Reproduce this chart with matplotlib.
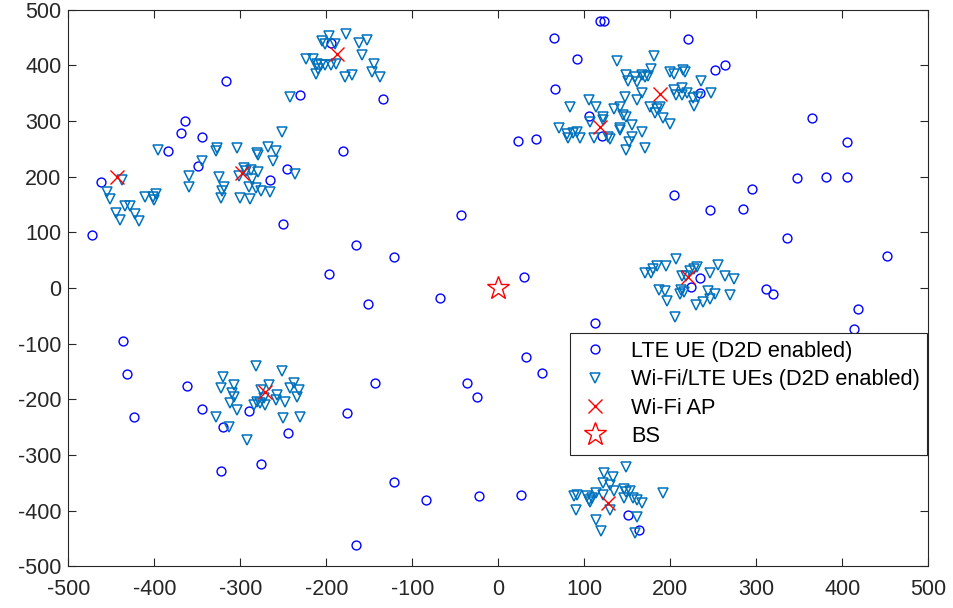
import matplotlib
matplotlib.use("Agg")
import matplotlib.pyplot as plt
import numpy as np

# LTE user equipment (D2D enabled)
lte_x = [-472, -462, -364, -369, -344, -384, -349, -246, -265, -250, -317, -231, -134, -194, -181,
         118, 123, 65, 221, 91, 264, 252, 66, 235, 106, 121, 23, 44,
         204, 295, 246, 285, 336, 452, 234, 224, 311, 319, 418, 414,
         347, 381, 405, 365, 405,
         -43, -165, -121, -197, -152, -68, 30, 32, 51, -143, -36, -25, -176, 112,
         -245, -121, -84, -22, 26, -166,
         -436, -432, -424, -362, -345, -320, -323, -290, -276,
         151, 164]
lte_y = [95, 191, 300, 278, 272, 247, 220, 214, 194, 115, 372, 346, 340, 441, 246,
         480, 480, 450, 447, 412, 400, 392, 357, 351, 309, 274, 264, 268,
         167, 177, 140, 142, 90, 58, 18, 2, -2, -10, -37, -73,
         198, 200, 200, 305, 262,
         132, 78, 56, 26, -29, -18, 20, -124, -153, -171, -171, -196, -225, -63,
         -260, -348, -381, -374, -372, -462,
         -95, -155, -231, -176, -217, -250, -328, -221, -316,
         -408, -434]

# Dual-mode Wi-Fi/LTE user equipment, grouped around the access points
wifi_x = [
    # AP near (-443, 200)
    -437, -455, -452, -411, -398, -400, -402, -434, -428, -445, -440, -423, -418, -396,
    # AP near (-298, 206)
    -252, -327, -328, -304, -281, -279, -268, -258, -262, -345, -360, -360, -325, -319,
    -321, -322, -296, -293, -287, -280, -301, -286, -290, -282, -276, -300, -289, -266, -236,
    # AP near (-188, 420)
    -197, -177, -205, -202, -190, -162, -153, -159, -224, -216, -211, -206, -201, -195, -189,
    -210, -212, -178, -170, -145, -147, -137, -242,
    # APs near (118, 289) and (188, 348)
    181, 138, 177, 148, 151, 159, 161, 167, 171, 174, 200, 204, 215, 217, 236,
    147, 161, 167, 204, 213, 207, 214, 219, 226, 232, 228, 247,
    176, 184, 188, 192, 200, 182, 83,
    105, 114, 122, 135, 142, 145, 149, 156, 167, 142, 107, 122,
    71, 80, 87, 92, 95, 81, 111, 128, 130, 142, 155, 152, 149, 171,
    # AP near (220, 19)
    207, 256, 184, 195, 231, 170, 178, 180, 246, 263, 274, 213, 218, 223, 227,
    187, 194, 211, 216, 196, 206, 244, 252, 269, 230, 238, 246, 212,
    # AP near (-271, -186)
    -282, -252, -320, -323, -307, -310, -307, -312, -304, -328, -313, -292,
    -276, -267, -273, -281, -277, -284, -271, -257, -248, -242, -237, -232, -234, -231, -250, -258,
    # AP near (127, -387)
    149, 123, 133, 122, 130, 88, 92, 103, 109, 114, 105, 107,
    134, 146, 149, 153, 122, 146, 157, 161, 167, 130, 90, 114, 119, 161, 159, 192]
wifi_y = [
    194, 172, 160, 164, 169, 158, 164, 147, 147, 134, 122, 133, 121, 248,
    280, 251, 247, 251, 243, 239, 253, 247, 228, 228, 202, 182, 199, 182,
    175, 162, 216, 211, 212, 209, 202, 196, 181, 180, 175, 162, 160, 172, 204,
    453, 456, 444, 439, 438, 440, 445, 418, 412, 412, 403, 400, 400, 401, 403,
    394, 384, 380, 383, 402, 388, 380, 343,
    416, 408, 394, 383, 372, 380, 371, 383, 380, 381, 388, 385, 392, 388, 372,
    344, 337, 351, 356, 359, 347, 347, 350, 341, 344, 327, 350,
    325, 321, 325, 305, 294, 315, 326,
    337, 326, 307, 322, 326, 311, 307, 293, 280, 284, 298, 301,
    287, 277, 279, 281, 269, 269, 269, 272, 267, 287, 272, 263, 248, 251,
    52, 41, 39, 39, 38, 27, 27, 34, 27, 21, 16, 21, 21, 30, 34,
    -4, -5, -10, -7, -24, -52, -5, -10, -13, -31, -25, -19, -4,
    -141, -150, -159, -180, -174, -188, -195, -207, -219, -231, -249, -273,
    -183, -175, -197, -204, -207, -210, -210, -192, -204, -180, -171, -184, -195, -232, -234, -201,
    -322, -333, -340, -350, -354, -373, -372, -373, -378, -369, -381, -385,
    -364, -362, -366, -364, -372, -378, -378, -380, -386, -398, -398, -416, -437, -411, -441, -368]

# Wi-Fi access points
ap_x = [-443, -298, -188, 118, 188, 220, -271, 127]
ap_y = [200, 206, 420, 289, 348, 19, -186, -387]

# LTE base station
bs_x = [0]
bs_y = [0]

plt.rcParams['font.family'] = ['Liberation Sans', 'DejaVu Sans']
plt.rcParams['axes.unicode_minus'] = False

fig = plt.figure(figsize=(9.54, 6.08), dpi=100)
ax = fig.add_axes([0.0716, 0.0686, 0.9015, 0.9154])

ax.plot(lte_x, lte_y, linestyle='none', marker='o', markersize=6.4,
        markerfacecolor='none', markeredgecolor='#0000ff', markeredgewidth=1.0,
        label='LTE UE (D2D enabled)')
ax.plot(wifi_x, wifi_y, linestyle='none', marker='v', markersize=7.8,
        markerfacecolor='none', markeredgecolor='#0072bd', markeredgewidth=1.1,
        label='Wi-Fi/LTE UEs (D2D enabled)')
ax.plot(ap_x, ap_y, linestyle='none', marker='x', markersize=10,
        color='#ff0000', markeredgewidth=1.0, label='Wi-Fi AP')
ax.plot(bs_x, bs_y, linestyle='none', marker='*', markersize=17,
        markerfacecolor='none', markeredgecolor='#ff0000', markeredgewidth=1.0,
        label='BS')

ax.set_xlim(-500, 500)
ax.set_ylim(-500, 500)
ax.set_xticks(np.arange(-500, 501, 100))
ax.set_yticks(np.arange(-500, 501, 100))

axis_color = '#262626'
for s in ax.spines.values():
    s.set_color(axis_color)
    s.set_linewidth(0.8)
ax.tick_params(direction='in', length=6, width=0.8, colors=axis_color,
               labelsize=15.5, top=True, right=True, pad=5)
ax.tick_params(axis='x', pad=9)

leg = ax.legend(loc='upper left', bbox_to_anchor=(0.583, 0.419), fontsize=15.7,
                frameon=True, fancybox=False, framealpha=1, edgecolor='#262626',
                numpoints=1, handlelength=1.6, handletextpad=0.85,
                borderpad=0.35, labelspacing=0.34, borderaxespad=0)
leg.get_frame().set_linewidth(0.8)

fig.savefig('out.png', dpi=100, facecolor='white')
